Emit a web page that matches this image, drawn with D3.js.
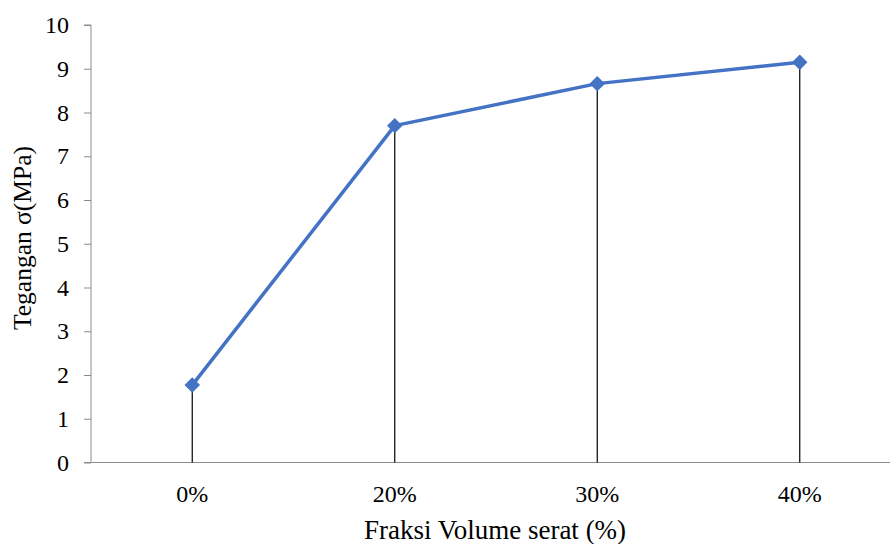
<!DOCTYPE html>
<html>
<head>
<meta charset="utf-8">
<script src="https://cdn.jsdelivr.net/npm/d3@7"></script>
<style>
  html, body { margin: 0; padding: 0; background: #fff; }
  svg { display: block; font-family: "Liberation Serif", "Times New Roman", serif; }
</style>
</head>
<body>
<svg id="chart" width="890" height="544"></svg>
<script>
// Tensile stress by fibre volume fraction
const categories = ["0%", "20%", "30%", "40%"];
const stress = [1.77, 7.70, 8.66, 9.15];
const yTicks = [0, 1, 2, 3, 4, 5, 6, 7, 8, 9, 10];

const serif = "Liberation Serif, Times New Roman, serif";
const svg = d3.select("#chart");
const plotLeft = 91, plotRight = 901, plotTop = 25, plotBottom = 462.5;

const x = d3.scaleBand().domain(categories).range([plotLeft, plotRight]);
const y = d3.scaleLinear().domain([0, 10]).range([plotBottom, plotTop]);
const cx = d => x(d) + x.bandwidth() / 2;

// Y axis
const yAxis = svg.append("g")
  .attr("transform", `translate(${plotLeft},0)`)
  .call(d3.axisLeft(y).tickValues(yTicks).tickSize(7).tickPadding(15).tickFormat(d3.format("d")));
yAxis.select(".domain").attr("stroke", "#8c8c8c").attr("d", `M-7,${y(10)}H0V${y(0)}`);
yAxis.selectAll(".tick line").attr("stroke", "#8c8c8c");
yAxis.selectAll(".tick text").attr("font-size", 24).attr("fill", "#000").attr("font-family", serif);

// X axis (no tick marks)
const xAxis = svg.append("g")
  .attr("transform", `translate(0,${plotBottom})`)
  .call(d3.axisBottom(x).tickSize(0).tickPadding(22));
xAxis.select(".domain").attr("stroke", "#8c8c8c").attr("d", `M${plotLeft - 7},0H890`);
xAxis.selectAll(".tick text").attr("font-size", 24).attr("fill", "#000").attr("font-family", serif);

const data = categories.map((c, i) => ({ c, v: stress[i] }));

// Drop lines to the axis
svg.append("g").selectAll("line").data(data).join("line")
  .attr("x1", d => cx(d.c)).attr("x2", d => cx(d.c))
  .attr("y1", d => y(d.v)).attr("y2", y(0))
  .attr("stroke", "#000").attr("stroke-width", 1.2);

// Series line
svg.append("path").datum(data)
  .attr("fill", "none").attr("stroke", "#4472C4").attr("stroke-width", 3.5)
  .attr("stroke-linejoin", "round")
  .attr("d", d3.line().x(d => cx(d.c)).y(d => y(d.v)));

// Diamond markers
svg.append("g").selectAll("path").data(data).join("path")
  .attr("d", d3.symbol(d3.symbolSquare, 120)())
  .attr("transform", d => `translate(${cx(d.c)},${y(d.v)}) rotate(45)`)
  .attr("fill", "#4472C4");

// Axis titles
svg.append("text")
  .attr("x", 495).attr("y", 539)
  .attr("text-anchor", "middle").attr("font-size", 27).attr("fill", "#000")
  .attr("font-family", serif)
  .text("Fraksi Volume serat (%)");

svg.append("text")
  .attr("transform", `translate(31,238) rotate(-90)`)
  .attr("text-anchor", "middle").attr("font-size", 25.5).attr("fill", "#000")
  .attr("font-family", serif)
  .text("Tegangan σ(MPa)");
</script>
</body>
</html>
